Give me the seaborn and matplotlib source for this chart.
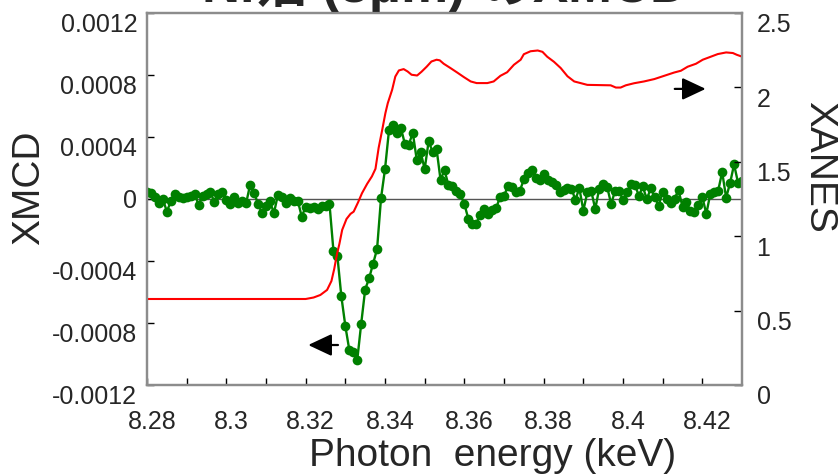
import numpy as np
import pandas as pd
import matplotlib
matplotlib.use("Agg")
import matplotlib.pyplot as plt
import matplotlib.transforms as mtransforms
import seaborn as sns

# ---------------- data ----------------
title_text = "Ni箔 (3μm) のXMCD"
x_label = "Photon  energy (keV)"
left_label = "XMCD"
right_label = "XANES"

# XMCD: sampled every 0.001 keV from 8.280 keV, values in units of 1e-4
xmcd_start_kev = 8.280
xmcd_step_kev = 0.001
xmcd_x1e4 = [
    0.42, 0.40, 0.16, -0.26, 0.00, -0.81, -0.16, 0.32, 0.16, 0.06,
    0.10, 0.21, 0.32, -0.37, 0.21, 0.34, 0.42, -0.20, 0.30, 0.42,
    -0.05, -0.31, 0.16, -0.26, -0.10, -0.26, 0.92, 0.38, -0.31, -0.91,
    -0.48, -0.16, -0.91, 0.27, 0.12, -0.23, 0.05, -0.16, -0.10, -1.13,
    -0.52, -0.59, -0.52, -0.65, -0.42, -0.42, -0.30,
    -3.34, -3.69, -6.29, -8.19, -9.74, -9.90, -10.40, -8.04, -5.84, -5.11,
    -4.18, -3.23, 0.06, 1.92, 4.42,
    4.79, 4.25, 4.58, 3.57, 3.50, 4.29, 2.53, 3.01, 1.93, 3.72,
    3.05, 3.23, 1.24, 1.87, 0.88, 0.85, 0.52, 0.30, -0.32, -1.27,
    -1.59, -1.59, -1.00, -0.65, -0.97, -0.72, -0.61, 0.14, 0.21, 0.83,
    0.79, 0.43, 0.52, 1.27, 1.65, 1.89,
    1.37, 1.22, 1.59, 1.24, 1.08, 0.92, 0.42, 0.56, 0.70, 0.67,
    -0.05, 0.70, -0.75, 0.42, 0.52, -0.65, 0.67, 0.94, 0.79, -0.31,
    0.51, 0.51, -0.05, 0.46, 0.94, 0.92, 0.21, 0.81, -0.03, 0.70,
    0.11, -0.42, 0.45, -0.02, -0.29, 0.03, 0.56, -0.50, -0.18, -0.78,
    -0.86, -0.41, 0.14, -0.96, 0.32, 0.46, 0.54, 1.74, 0.09, 1.03,
    2.23, 1.05, 1.17,
]

# XANES (right axis)
xanes_energy = [
    8.2800, 8.3200, 8.3220, 8.3237, 8.3254, 8.3265, 8.3272, 8.3279, 8.3285, 8.3292,
    8.3303, 8.3313, 8.3321, 8.3332, 8.3342, 8.3355, 8.3367, 8.3376, 8.3384, 8.3393,
    8.3401, 8.3407, 8.3418, 8.3426, 8.3435, 8.3447, 8.3457, 8.3467, 8.3481, 8.3492,
    8.3505, 8.3517, 8.3530, 8.3538, 8.3548, 8.3565, 8.3582, 8.3599, 8.3616, 8.3631,
    8.3658, 8.3674, 8.3691, 8.3708, 8.3725, 8.3742, 8.3750, 8.3767, 8.3785, 8.3797,
    8.3809, 8.3826, 8.3843, 8.3860, 8.3877, 8.3893, 8.3910, 8.3969, 8.3982, 8.3994,
    8.4007, 8.4028, 8.4053, 8.4079, 8.4104, 8.4129, 8.4146, 8.4163, 8.4184, 8.4201,
    8.4217, 8.4239, 8.4260, 8.4277, 8.4287, 8.4303,
]
xanes_value = [
    0.578, 0.578, 0.588, 0.605, 0.639, 0.699, 0.780, 0.881, 0.948, 1.042,
    1.116, 1.150, 1.165, 1.227, 1.289, 1.352, 1.402, 1.453, 1.594, 1.715,
    1.827, 1.894, 1.984, 2.073, 2.114, 2.123, 2.107, 2.085, 2.080, 2.105,
    2.139, 2.174, 2.186, 2.182, 2.159, 2.130, 2.100, 2.069, 2.040, 2.029,
    2.029, 2.040, 2.078, 2.102, 2.152, 2.186, 2.223, 2.243, 2.248, 2.239,
    2.206, 2.172, 2.130, 2.075, 2.040, 2.029, 2.017, 2.014, 1.999, 1.999,
    2.014, 2.028, 2.040, 2.056, 2.078, 2.100, 2.112, 2.139, 2.159, 2.186,
    2.202, 2.224, 2.235, 2.231, 2.219, 2.204,
]

x_ticks = [8.28, 8.30, 8.32, 8.34, 8.36, 8.38, 8.40, 8.42]
x_tick_labels = ["8.28", "8.3", "8.32", "8.34", "8.36", "8.38", "8.4", "8.42"]
x_minor_ticks = [8.29, 8.31, 8.33, 8.35, 8.37, 8.39, 8.41]
left_ticks = [-0.0012, -0.0008, -0.0004, 0.0, 0.0004, 0.0008, 0.0012]
left_tick_labels = ["-0.0012", "-0.0008", "-0.0004", "0", "0.0004", "0.0008", "0.0012"]
right_ticks = [0, 0.5, 1.0, 1.5, 2.0, 2.5]
right_tick_labels = ["0", "0.5", "1", "1.5", "2", "2.5"]

energy = np.round(xmcd_start_kev + xmcd_step_kev * np.arange(len(xmcd_x1e4)), 4)
df_xmcd = pd.DataFrame({"energy": energy, "xmcd": np.array(xmcd_x1e4) * 1e-4})
df_xanes = pd.DataFrame({"energy": xanes_energy, "xanes": xanes_value})

# ---------------- style ----------------
sns.set_style("white")
plt.rcParams["font.family"] = ["Liberation Sans", "Noto Sans CJK JP", "DejaVu Sans"]

fig = plt.figure(figsize=(8.4, 4.76), dpi=100)
ax = fig.add_axes([147 / 840, 91 / 476, 595 / 840, 372 / 476])
ax2 = ax.twinx()

ax.axhline(0, color="#555555", lw=1.0, zorder=0.5)
sns.lineplot(data=df_xmcd, x="energy", y="xmcd", ax=ax, color="#008000", lw=1.7,
             marker="o", markersize=7, markeredgewidth=0, zorder=2)
sns.lineplot(data=df_xanes, x="energy", y="xanes", ax=ax2, color="#ff0000", lw=1.5)

ax.set_xlim(8.28, 8.43)
ax.set_ylim(-0.0012, 0.0012)
ax2.set_ylim(0, 2.5)

ax.set_xticks(x_ticks)
ax.set_xticklabels(x_tick_labels)
ax.set_xticks(x_minor_ticks, minor=True)
ax.set_yticks(left_ticks)
ax.set_yticklabels(left_tick_labels)
ax2.set_yticks(right_ticks)
ax2.set_yticklabels(right_tick_labels)

spine_color = "#8c8c8c"
for a in (ax, ax2):
    for s in a.spines.values():
        s.set_color(spine_color)
        s.set_linewidth(1.6)

ax.tick_params(axis="x", which="both", direction="in", length=5, width=1,
               color="black", labelsize=18, pad=18, bottom=True, top=False)
ax.tick_params(axis="y", which="both", direction="in", length=5, width=1,
               color="black", labelsize=18, pad=7, left=True, right=False)
ax2.tick_params(axis="y", direction="in", length=6, width=1, color="black",
                labelsize=18, pad=10.5, right=True, left=False)

ax.set_xlabel(x_label, fontsize=28)
ax.set_ylabel(left_label, fontsize=28)
ax2.set_ylabel(right_label, fontsize=28, rotation=270)

ax.xaxis.set_label_coords(0.58, -0.19)
ax.xaxis.label.set(va="center", ha="center")
ax.yaxis.set_label_coords(-0.198, 0.531)
ax.yaxis.label.set(va="center", ha="center", rotation_mode="default")
ax2.yaxis.set_label_coords(1.129, 0.587)
ax2.yaxis.label.set(va="center", ha="center", rotation_mode="default")

ax.set_title(title_text, fontsize=38, fontweight="bold", pad=2)

# arrows indicating which axis each curve belongs to
arrow_kw = dict(arrowstyle="-|>,head_length=1.0,head_width=0.47", color="black",
                lw=1.6, mutation_scale=14.4, shrinkA=0, shrinkB=0)
ax.annotate("", xy=(0.271, 0.1075), xytext=(0.321, 0.1075),
            xycoords="axes fraction", textcoords="axes fraction", arrowprops=arrow_kw)
ax.annotate("", xy=(0.939, 0.796), xytext=(0.887, 0.796),
            xycoords="axes fraction", textcoords="axes fraction", arrowprops=arrow_kw)

# tick label offsets as in the original
down = mtransforms.ScaledTranslation(0, -9 / 100, fig.dpi_scale_trans)
for t in ax.yaxis.get_major_ticks():
    if t.label1.get_text() != "0":
        t.label1.set_transform(t.label1.get_transform() + down)
down_r = mtransforms.ScaledTranslation(0, -10 / 100, fig.dpi_scale_trans)
for t in ax2.yaxis.get_major_ticks():
    t.label2.set_transform(t.label2.get_transform() + down_r)
right_shift = mtransforms.ScaledTranslation(5 / 100, 0, fig.dpi_scale_trans)
for t in ax.xaxis.get_major_ticks():
    t.label1.set_transform(t.label1.get_transform() + right_shift)

fig.savefig("out.png", dpi=100)
